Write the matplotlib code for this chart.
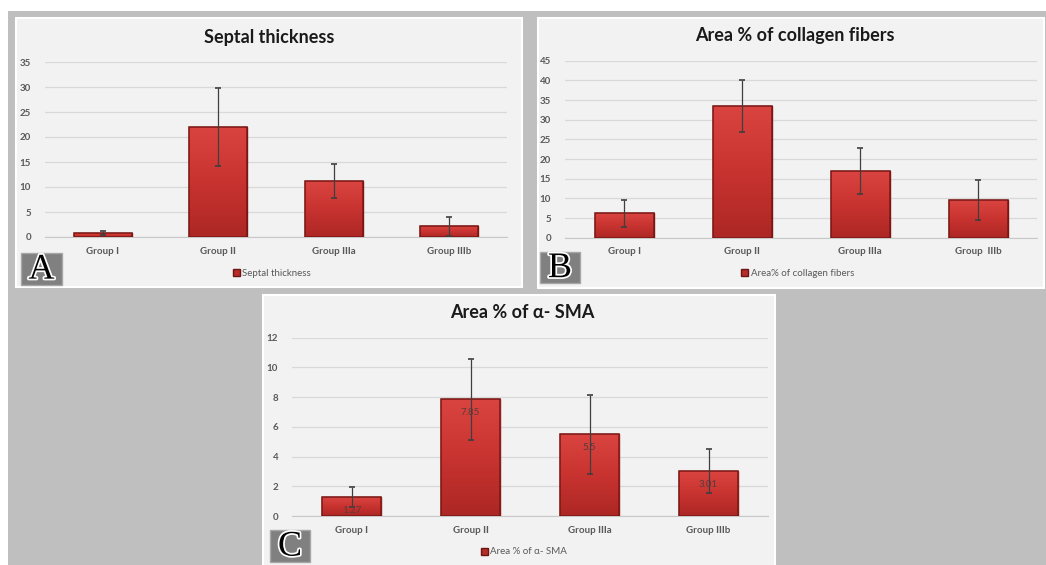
import matplotlib
matplotlib.use("Agg")
import matplotlib.pyplot as plt
import matplotlib.patheffects as pe
from matplotlib.patches import Rectangle
from matplotlib.colors import LinearSegmentedColormap
import numpy as np

# ---- data ----
groups = ["Group I", "Group II", "Group IIIa", "Group IIIb"]
groups_b = ["Group I", "Group II", "Group IIIa", "Group  IIIb"]

septal_mean = [0.8, 22.1, 11.2, 2.2]
septal_err = [0.45, 7.8, 3.45, 1.9]

collagen_mean = [6.2, 33.6, 17.0, 9.5]
collagen_err = [3.5, 6.6, 5.9, 5.1]

sma_mean = [1.27, 7.85, 5.5, 3.01]
sma_err = [0.66, 2.75, 2.67, 1.48]
sma_labels = ["1.27", "7.85", "5.5", "3.01"]

W, H = 1046, 565
FONT = "Lato"
TXT = "#595959"

fig = plt.figure(figsize=(W / 100, H / 100), dpi=100)
fig.patch.set_facecolor("white")


def fr(x0, y0, x1, y1):
    """Pixel box (top-left origin) -> figure fraction [l, b, w, h]."""
    return [x0 / W, 1 - y1 / H, (x1 - x0) / W, (y1 - y0) / H]


def fpt(x, y):
    return x / W, 1 - y / H


# grey backdrop of the composite
l, b, w, h = fr(8, 11, W, H)
fig.patches.append(Rectangle((l, b), w, h, transform=fig.transFigure,
                             facecolor="#bfbfbf", edgecolor="none", zorder=0))

bar_cmap = LinearSegmentedColormap.from_list("bar", ["#ad2724", "#c83330", "#da4440"])


def panel(box, plot_box, title, title_xy, means, errs, ymax, ystep, cats,
          legend_text, legend_xy, letter, letter_box, value_labels=None):
    # chart area
    l, b, w, h = fr(*box)
    fig.patches.append(Rectangle((l, b), w, h, transform=fig.transFigure,
                                 facecolor="#f2f2f2", edgecolor="white",
                                 linewidth=1.5, zorder=1))
    ax = fig.add_axes(fr(*plot_box))
    ax.set_facecolor("none")
    ax.set_zorder(2)
    x = np.arange(len(means))
    bars = ax.bar(x, means, width=0.5, facecolor="#c8312e", edgecolor="#7a1714",
                  linewidth=1.0, zorder=3)
    grad = np.linspace(0, 1, 100).reshape(-1, 1)
    for bar in bars:
        bx, by = bar.get_x(), bar.get_y()
        bw, bh = bar.get_width(), bar.get_height()
        im = ax.imshow(grad, extent=[bx, bx + bw, by, by + bh], origin="lower",
                       aspect="auto", cmap=bar_cmap, zorder=3.5)
        im.set_clip_path(bar)
        ax.add_patch(Rectangle((bx, by), bw, bh, facecolor="none",
                               edgecolor="#7a1714", linewidth=1.1, zorder=3.6))
    ax.errorbar(x, means, yerr=errs, fmt="none", ecolor="#3f3f3f",
                elinewidth=0.9, capsize=2.5, capthick=1.2, zorder=5)
    if value_labels:
        for xi, m, s in zip(x, means, value_labels):
            ax.annotate(s, (xi, m), xytext=(0, -13), textcoords="offset pixels",
                        ha="center", va="center", fontsize=7, color="#5a3a3a",
                        family=FONT, zorder=6)
    ax.set_xlim(-0.5, len(means) - 0.5)
    ax.set_ylim(0, ymax)
    ax.set_yticks(np.arange(0, ymax + 0.01, ystep))
    ax.yaxis.grid(True, color="#d9d9d9", linewidth=0.9)
    ax.set_axisbelow(True)
    for s in ("left", "right", "top"):
        ax.spines[s].set_visible(False)
    ax.spines["bottom"].set_color("#c8c8c8")
    ax.tick_params(axis="y", length=0, pad=10, labelsize=7, labelcolor=TXT)
    ax.tick_params(axis="x", length=0, pad=7, labelsize=7, labelcolor=TXT)
    ax.set_xticks(x)
    ax.set_xticklabels(cats, family=FONT, fontweight="bold")
    for t in ax.get_yticklabels():
        t.set_family(FONT)
        t.set_fontweight("bold")

    tx, ty = fpt(*title_xy)
    fig.text(tx, ty, title, ha="center", va="center", fontsize=13,
             fontweight="bold", color="#1a1a1a", family=FONT, zorder=4)

    lx, ly = fpt(*legend_xy)
    handle = Rectangle((0, 0), 1, 1, facecolor="#b52c29", edgecolor="#6d1513")
    leg = ax.legend([handle], [legend_text], loc="center",
                    bbox_to_anchor=(lx, ly), bbox_transform=fig.transFigure,
                    frameon=False, handlelength=0.7, handleheight=0.7,
                    handletextpad=0.3, prop={"family": FONT, "size": 7})
    for t in leg.get_texts():
        t.set_color(TXT)

    # panel letter tag
    l2, b2, w2, h2 = fr(*letter_box)
    fig.patches.append(Rectangle((l2, b2), w2, h2, transform=fig.transFigure,
                                 facecolor="#808080", edgecolor="#a6a6a6",
                                 linewidth=1, zorder=5))
    fig.text(l2 + w2 / 2, b2 + h2 / 2 - 0.002, letter, ha="center", va="center",
             fontsize=26, family="Liberation Serif", color="black", zorder=6,
             path_effects=[pe.withStroke(linewidth=2.5, foreground="white")])
    return ax


panel((16, 18, 522, 287), (45, 62, 507, 237), "Septal thickness", (269, 38),
      septal_mean, septal_err, 35, 5, groups, "Septal thickness", (272, 273),
      "A", (21, 253, 62, 285))

panel((538, 18, 1044, 288), (565, 60.7, 1037, 237.7), "Area % of collagen fibers",
      (795, 36), collagen_mean, collagen_err, 45, 5, groups_b,
      "Area% of collagen fibers", (798, 273), "B", (540, 252, 580, 283))

panel((263, 295, 775, 566), (292, 337.7, 768, 516), "Area % of \u03b1- SMA",
      (522, 313), sma_mean, sma_err, 12, 2, groups, "Area % of \u03b1- SMA",
      (524, 552), "C", (270, 530, 310, 562), value_labels=sma_labels)

fig.savefig("out.png", dpi=100, facecolor=fig.get_facecolor())
